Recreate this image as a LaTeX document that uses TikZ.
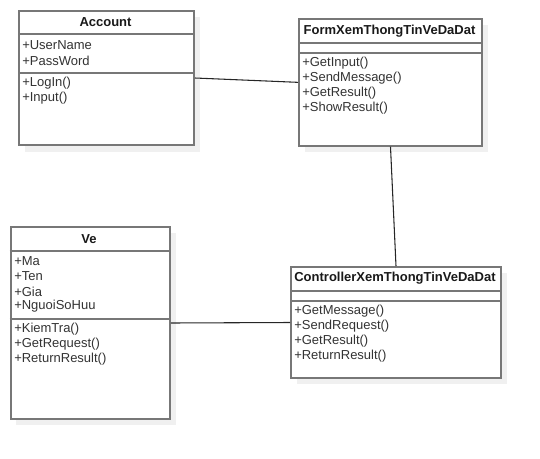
\documentclass[tikz,border=0pt]{standalone}
\usepackage{fontspec}
\setmainfont{Liberation Sans}
\usepackage{xcolor}
\definecolor{umlgray}{HTML}{777777}
\definecolor{umlshadow}{HTML}{F0F0F0}
\definecolor{umltext}{HTML}{333333}
\usetikzlibrary{positioning, calc}

\tikzset{
  umlclass/.style={draw=umlgray, line width=1.5pt, fill=white, anchor=north west,
    inner sep=0pt},
  umlshade/.style={fill=umlshadow},
  umlsep/.style={draw=umlgray, line width=1.5pt},
  umltitle/.style={font=\fontsize{9.75}{11}\selectfont\bfseries, text=black!90},
  umlitem/.style={font=\fontsize{9.75}{11}\selectfont, text=umltext, anchor=west,
    inner sep=0pt},
  assoc/.style={draw=black!85, line width=0.8pt}
}

\begin{document}
\begin{tikzpicture}[x=0.75pt, y=-0.75pt]
        \useasboundingbox (0, 0) rectangle (540, 458);
        % Shadows
        \fill[umlshade] (25, 17) rectangle (200, 152);
        \fill[umlshade] (305, 25) rectangle (488, 152);
        \fill[umlshade] (16, 233) rectangle (176, 425);
        \fill[umlshade] (297, 273) rectangle (507, 384);
        % Class boxes
        \node[umlclass, minimum width=131.25pt, minimum height=100.5pt]
          (account) at (18, 10) {};
        \node[umlclass, minimum width=137.25pt, minimum height=95pt]
          (form) at (298, 18) {};
        \node[umlclass, minimum width=119.5pt, minimum height=144pt]
          (ve) at (9.5, 226) {};
        \node[umlclass, minimum width=157.5pt, minimum height=83.25pt]
          (ctrl) at (290, 266) {};
        % Compartment lines
        \draw[umlsep] (18, 34) -- (193, 34);
        \draw[umlsep] (18, 72.5) -- (193, 72.5);
        \draw[umlsep] (298, 42.5) -- (481, 42.5);
        \draw[umlsep] (298, 52.5) -- (481, 52.5);
        \draw[umlsep] (9.5, 250.5) -- (169, 250.5);
        \draw[umlsep] (9.5, 318.5) -- (169, 318.5);
        \draw[umlsep] (290, 290.5) -- (500, 290.5);
        \draw[umlsep] (290, 300.5) -- (500, 300.5);
        % Class names
        \node[umltitle] (accounttitle) at (105.5, 22.5) {Account};
        \node[umltitle] (formtitle) at (389.5, 31) {FormXemThongTinVeDaDat};
        \node[umltitle] (vetitle) at (89, 239.5) {Ve};
        \node[umltitle] (ctrltitle) at (395, 278.5) {ControllerXemThongTinVeDaDat};
        % Account members
        \node[umlitem] (acc1) at (22, 45) {+UserName};
        \node[umlitem] (acc2) at (22, 60.5) {+PassWord};
        \node[umlitem] (acc3) at (22, 83) {+LogIn()};
        \node[umlitem] (acc4) at (22, 98.5) {+Input()};
        % Form members
        \node[umlitem] (form1) at (302, 63) {+GetInput()};
        \node[umlitem] (form2) at (302, 78.5) {+SendMessage()};
        \node[umlitem] (form3) at (302, 93.5) {+GetResult()};
        \node[umlitem] (form4) at (302, 108.5) {+ShowResult()};
        % Ve members
        \node[umlitem] (ve1) at (14, 261.5) {+Ma};
        \node[umlitem] (ve2) at (14, 276.5) {+Ten};
        \node[umlitem] (ve3) at (14, 291.5) {+Gia};
        \node[umlitem] (ve4) at (14, 306.5) {+NguoiSoHuu};
        \node[umlitem] (ve5) at (14, 329.5) {+KiemTra()};
        \node[umlitem] (ve6) at (14, 344.5) {+GetRequest()};
        \node[umlitem] (ve7) at (14, 359.5) {+ReturnResult()};
        % Controller members
        \node[umlitem] (ctrl1) at (294, 311.5) {+GetMessage()};
        \node[umlitem] (ctrl2) at (294, 326.5) {+SendRequest()};
        \node[umlitem] (ctrl3) at (294, 341.5) {+GetResult()};
        \node[umlitem] (ctrl4) at (294, 356) {+ReturnResult()};
        % Associations
        \draw[assoc] (account.east) -- (form.west);
        \draw[assoc] (form.south) -- (ctrl.north);
        \draw[assoc] (ve.east) -- (ctrl.west);
      \end{tikzpicture}
\end{document}
